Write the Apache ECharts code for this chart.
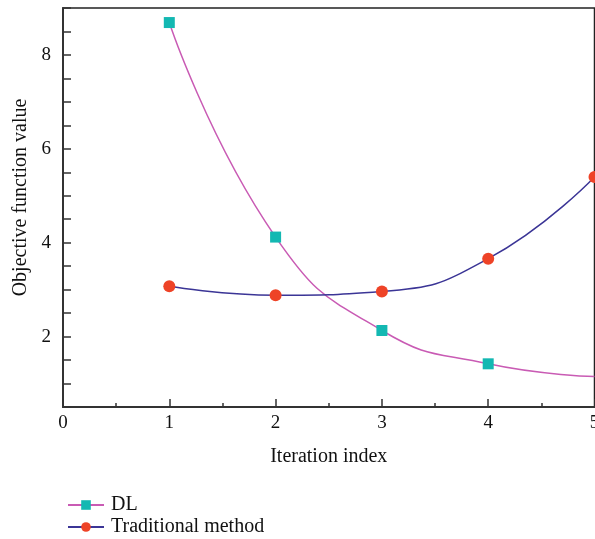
<!DOCTYPE html>
<html><head><meta charset="utf-8">
<script src="https://cdn.jsdelivr.net/npm/echarts@6/dist/echarts.min.js"></script>
<style>html,body{margin:0;padding:0;background:#fff}#c{width:595px;height:539px}</style>
</head><body><div id="c"></div>
<script>
const xValues = [1, 2, 3, 4, 5];
const dlValues = [8.69, 4.12, 2.13, 1.42, 1.15];
const tradValues = [3.07, 2.88, 2.96, 3.66, 5.40];
const seriesNames = ['DL', 'Traditional method'];
const xTicks = [0, 1, 2, 3, 4, 5];
const yTicks = [2, 4, 6, 8];

const font = 'Liberation Serif';
const chart = echarts.init(document.getElementById('c'), null, {renderer: 'canvas'});
const axisLine = {show: true, lineStyle: {color: '#333', width: 2}};
chart.setOption({
  animation: false,
  textStyle: {fontFamily: font},
  grid: {left: 63, top: 8, right: 0.5, bottom: 132, containLabel: false, outerBoundsMode: 'none',
    show: true, borderColor: '#222', borderWidth: 1.5},
  legend: {
    orient: 'vertical', left: 62, top: 490, height: 60, itemWidth: 36, itemHeight: 12, itemGap: 2,
    textStyle: {fontFamily: font, fontSize: 20, color: '#111', padding: [0, 0, 0, 2]},
    data: seriesNames
  },
  xAxis: {
    type: 'value', min: 0, max: 5, interval: 1,
    name: 'Iteration index', nameLocation: 'middle', nameGap: 40,
    nameTextStyle: {fontFamily: font, fontSize: 20, color: '#111'},
    axisLine: axisLine,
    axisTick: {show: true, inside: true, length: 8, lineStyle: {color: '#333', width: 1.5}},
    minorTick: {show: true, splitNumber: 2, length: 4, lineStyle: {color: '#333', width: 1.5}},
    axisLabel: {fontFamily: font, fontSize: 19, color: '#111', margin: 7,
      formatter: v => xTicks.includes(v) ? String(v) : ''},
    splitLine: {show: false}
  },
  yAxis: {
    type: 'value', min: 0.5, max: 9, interval: 0.5,
    name: 'Objective function value', nameLocation: 'middle', nameGap: 30,
    nameTextStyle: {fontFamily: font, fontSize: 20, color: '#111', padding: [0, 0, 0, 20]},
    axisLine: axisLine,
    axisTick: {show: true, inside: true, length: 8, lineStyle: {color: '#333', width: 1.5}},
    axisLabel: {fontFamily: font, fontSize: 19, color: '#111', margin: 12,
      formatter: v => yTicks.includes(v) ? String(v) : ''},
    splitLine: {show: false}
  },
  series: [
    {
      name: seriesNames[0], type: 'line', smooth: 0.5,
      data: xValues.map((x, i) => i === xValues.length - 1
        ? {value: [x, dlValues[i]], symbolSize: 0}
        : [x, dlValues[i]]),
      symbol: 'rect', symbolSize: 11,
      lineStyle: {color: '#c95bb4', width: 1.5},
      itemStyle: {color: '#13b8b2', borderWidth: 0},
      z: 2
    },
    {
      name: seriesNames[1], type: 'line', smooth: 0.5,
      data: xValues.map((x, i) => [x, tradValues[i]]),
      symbol: 'circle', symbolSize: 12,
      lineStyle: {color: '#3b3596', width: 1.5},
      itemStyle: {color: '#ee4327', borderWidth: 0},
      z: 3
    }
  ]
});
</script></body></html>
